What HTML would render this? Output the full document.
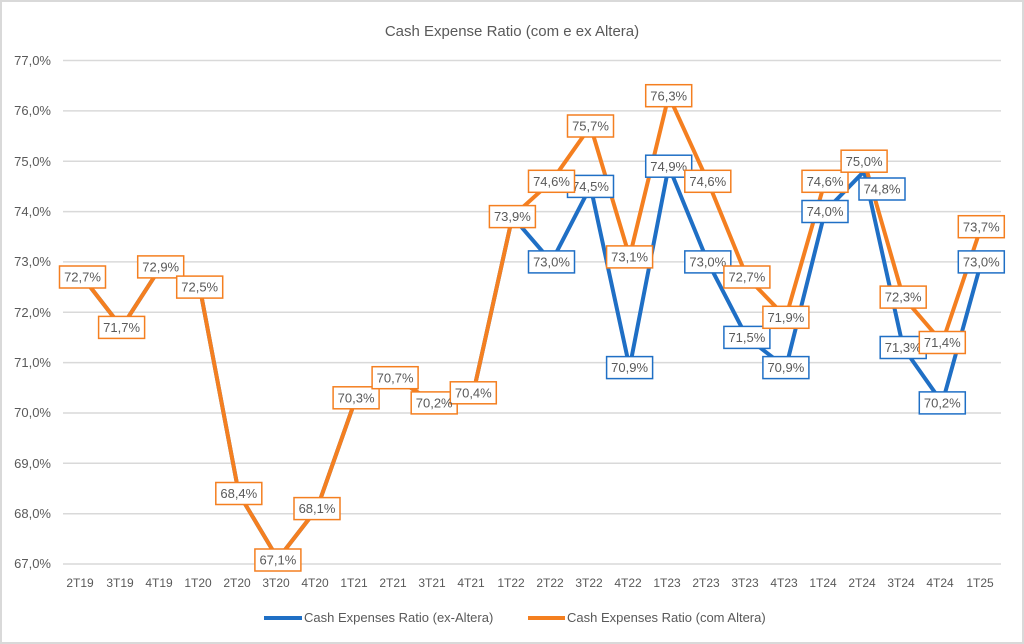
<!DOCTYPE html>
<html><head><meta charset="utf-8"><style>
html,body{margin:0;padding:0;background:#fff}
svg{display:block}
text{font-family:"Liberation Sans",sans-serif;fill:#595959}
</style></head><body>
<svg width="1024" height="644" viewBox="0 0 1024 644" xmlns="http://www.w3.org/2000/svg">
<rect x="1" y="1" width="1022" height="642" fill="#fff" stroke="#d9d9d9" stroke-width="2"/>
<text x="512" y="36" font-size="15" text-anchor="middle">Cash Expense Ratio (com e ex Altera)</text>
<g stroke="#d9d9d9" stroke-width="1.5">
<line x1="63" x2="1001" y1="60.5" y2="60.5"/><line x1="63" x2="1001" y1="110.9" y2="110.9"/>
<line x1="63" x2="1001" y1="161.2" y2="161.2"/><line x1="63" x2="1001" y1="211.6" y2="211.6"/>
<line x1="63" x2="1001" y1="261.9" y2="261.9"/><line x1="63" x2="1001" y1="312.3" y2="312.3"/>
<line x1="63" x2="1001" y1="362.6" y2="362.6"/><line x1="63" x2="1001" y1="413" y2="413"/>
<line x1="63" x2="1001" y1="463.3" y2="463.3"/><line x1="63" x2="1001" y1="513.7" y2="513.7"/>
<line x1="63" x2="1001" y1="564" y2="564"/>
</g>
<g font-size="13" text-anchor="end">
<text x="51" y="65">77,0%</text><text x="51" y="115">76,0%</text><text x="51" y="166">75,0%</text>
<text x="51" y="216">74,0%</text><text x="51" y="266">73,0%</text><text x="51" y="317">72,0%</text>
<text x="51" y="367">71,0%</text><text x="51" y="417">70,0%</text><text x="51" y="468">69,0%</text>
<text x="51" y="518">68,0%</text><text x="51" y="568">67,0%</text>
</g>
<g font-size="12" text-anchor="middle">
<text x="80" y="587">2T19</text><text x="120" y="587">3T19</text><text x="159" y="587">4T19</text><text x="198" y="587">1T20</text>
<text x="237" y="587">2T20</text><text x="276" y="587">3T20</text><text x="315" y="587">4T20</text><text x="354" y="587">1T21</text>
<text x="393" y="587">2T21</text><text x="432" y="587">3T21</text><text x="471" y="587">4T21</text><text x="511" y="587">1T22</text>
<text x="550" y="587">2T22</text><text x="589" y="587">3T22</text><text x="628" y="587">4T22</text><text x="667" y="587">1T23</text>
<text x="706" y="587">2T23</text><text x="745" y="587">3T23</text><text x="784" y="587">4T23</text><text x="823" y="587">1T24</text>
<text x="862" y="587">2T24</text><text x="901" y="587">3T24</text><text x="940" y="587">4T24</text><text x="980" y="587">1T25</text>
</g>
<polyline fill="none" stroke="#1f6fc5" stroke-width="4" stroke-linejoin="round" points="82.5,277 121.6,327.4 160.7,266.9 199.7,287.1 238.8,493.5 277.9,559 317,508.6 356.1,397.8 395.1,377.7 434.2,402.9 473.3,392.8 512.4,216.6 551.5,261.9 590.5,186.4 629.6,367.6 668.7,166.2 707.8,261.9 746.9,337.4 785.9,367.6 825,211.5 864.1,171.3 903.2,347.5 942.3,402.9 981.3,261.9"/>
<polyline fill="none" stroke="#f47f20" stroke-width="4" stroke-linejoin="round" points="82.5,277 121.6,327.4 160.7,266.9 199.7,287.1 238.8,493.5 277.9,559 317,508.6 356.1,397.8 395.1,377.7 434.2,402.9 473.3,392.8 512.4,216.6 551.5,181.3 590.5,126 629.6,256.9 668.7,95.7 707.8,181.3 746.9,277 785.9,317.3 825,181.3 864.1,161.2 903.2,297.1 942.3,342.5 981.3,226.7"/>
<g font-size="13" text-anchor="middle">
<g stroke="#1f6fc5" stroke-width="1.5" fill="#fff">
<rect x="528.5" y="250.9" width="46" height="22"/><rect x="567.5" y="175.4" width="46" height="22"/>
<rect x="606.6" y="356.6" width="46" height="22"/><rect x="645.7" y="155.2" width="46" height="22"/>
<rect x="684.8" y="250.9" width="46" height="22"/><rect x="723.9" y="326.4" width="46" height="22"/>
<rect x="762.9" y="356.6" width="46" height="22"/><rect x="802" y="200.5" width="46" height="22"/>
<rect x="859" y="178" width="46" height="22"/><rect x="880.2" y="336.5" width="46" height="22"/>
<rect x="919.3" y="391.9" width="46" height="22"/><rect x="958.3" y="250.9" width="46" height="22"/>
</g>
<text x="551.5" y="266.5">73,0%</text><text x="590.5" y="191">74,5%</text><text x="629.6" y="372.2">70,9%</text>
<text x="668.7" y="170.8">74,9%</text><text x="707.8" y="266.5">73,0%</text><text x="746.9" y="342">71,5%</text>
<text x="785.9" y="372.2">70,9%</text><text x="825" y="216.1">74,0%</text><text x="882" y="193.6">74,8%</text>
<text x="903.2" y="352.1">71,3%</text><text x="942.3" y="407.5">70,2%</text><text x="981.3" y="266.5">73,0%</text>
<g stroke="#f47f20" stroke-width="1.5" fill="#fff">
<rect x="59.5" y="266" width="46" height="22"/><rect x="98.6" y="316.4" width="46" height="22"/>
<rect x="137.7" y="255.9" width="46" height="22"/><rect x="176.7" y="276.1" width="46" height="22"/>
<rect x="215.8" y="482.5" width="46" height="22"/><rect x="254.9" y="549" width="46" height="22"/>
<rect x="294" y="497.6" width="46" height="22"/><rect x="333.1" y="386.8" width="46" height="22"/>
<rect x="372.1" y="366.7" width="46" height="22"/><rect x="411.2" y="391.9" width="46" height="22"/>
<rect x="450.3" y="381.8" width="46" height="22"/><rect x="489.4" y="205.6" width="46" height="22"/>
<rect x="528.5" y="170.3" width="46" height="22"/><rect x="567.5" y="115" width="46" height="22"/>
<rect x="606.6" y="245.9" width="46" height="22"/><rect x="645.7" y="84.7" width="46" height="22"/>
<rect x="684.8" y="170.3" width="46" height="22"/><rect x="723.9" y="266" width="46" height="22"/>
<rect x="762.9" y="306.3" width="46" height="22"/><rect x="802" y="170.3" width="46" height="22"/>
<rect x="841.1" y="150.2" width="46" height="22"/><rect x="880.2" y="286.1" width="46" height="22"/>
<rect x="919.3" y="331.5" width="46" height="22"/><rect x="958.3" y="215.7" width="46" height="22"/>
</g>
<text x="82.5" y="281.6">72,7%</text><text x="121.6" y="332">71,7%</text><text x="160.7" y="271.5">72,9%</text>
<text x="199.7" y="291.7">72,5%</text><text x="238.8" y="498.1">68,4%</text><text x="277.9" y="564.6">67,1%</text>
<text x="317" y="513.2">68,1%</text><text x="356.1" y="402.4">70,3%</text><text x="395.1" y="382.3">70,7%</text>
<text x="434.2" y="407.5">70,2%</text><text x="473.3" y="397.4">70,4%</text><text x="512.4" y="221.2">73,9%</text>
<text x="551.5" y="185.9">74,6%</text><text x="590.5" y="130.6">75,7%</text><text x="629.6" y="261.5">73,1%</text>
<text x="668.7" y="100.3">76,3%</text><text x="707.8" y="185.9">74,6%</text><text x="746.9" y="281.6">72,7%</text>
<text x="785.9" y="321.9">71,9%</text><text x="825" y="185.9">74,6%</text><text x="864.1" y="165.8">75,0%</text>
<text x="903.2" y="301.7">72,3%</text><text x="942.3" y="347.1">71,4%</text><text x="981.3" y="231.3">73,7%</text>
</g>
<line x1="264" x2="302" y1="618" y2="618" stroke="#1f6fc5" stroke-width="4"/>
<text x="304" y="622" font-size="13">Cash Expenses Ratio (ex-Altera)</text>
<line x1="528" x2="565" y1="618" y2="618" stroke="#f47f20" stroke-width="4"/>
<text x="567" y="622" font-size="13">Cash Expenses Ratio (com Altera)</text>
</svg>
</body></html>
